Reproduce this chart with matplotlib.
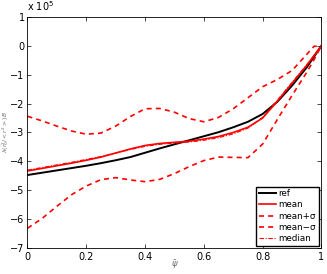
import numpy as np
from matplotlib import pyplot as plt


x = [0.00, 0.05, 0.10, 0.15, 0.20, 0.25, 0.30, 0.35, 0.40, 0.45, 0.50,
     0.55, 0.60, 0.65, 0.70, 0.75, 0.80, 0.85, 0.90, 0.95, 0.975, 1.00]

# values in units of 1e5
ref = [-4.47, -4.39, -4.31, -4.23, -4.15, -4.06, -3.96, -3.85, -3.70, -3.55, -3.41,
       -3.27, -3.13, -2.99, -2.82, -2.63, -2.36, -1.94, -1.38, -0.75, -0.38, 0.00]
mean = [-4.33, -4.24, -4.15, -4.06, -3.96, -3.85, -3.71, -3.57, -3.45, -3.38, -3.34,
        -3.30, -3.23, -3.14, -3.00, -2.82, -2.50, -1.92, -1.30, -0.68, -0.34, 0.00]
mean_plus = [-2.44, -2.60, -2.78, -2.95, -3.06, -3.02, -2.78, -2.45, -2.18, -2.17, -2.30,
             -2.52, -2.63, -2.48, -2.18, -1.80, -1.42, -1.17, -0.86, -0.30, -0.02, -0.02]
mean_minus = [-6.31, -5.97, -5.55, -5.15, -4.85, -4.63, -4.56, -4.64, -4.70, -4.62, -4.42,
              -4.18, -3.97, -3.85, -3.86, -3.87, -3.40, -2.55, -1.72, -0.92, -0.48, 0.00]
median = [-4.30, -4.21, -4.12, -4.03, -3.93, -3.83, -3.71, -3.59, -3.48, -3.41, -3.37,
          -3.33, -3.27, -3.18, -3.05, -2.85, -2.48, -1.88, -1.27, -0.66, -0.33, 0.00]

x_ticks = [0, 0.2, 0.4, 0.6, 0.8, 1]
x_tick_labels = ["0", "0.2", "0.4", "0.6", "0.8", "1"]
y_ticks = [1, 0, -1, -2, -3, -4, -5, -6, -7]
y_tick_labels = ["1", "0", "\u22121", "\u22122", "\u22123", "\u22124", "\u22125", "\u22126", "\u22127"]


plt.rcParams["font.family"] = ["DejaVu Sans"]

fig = plt.figure(figsize=(3.27, 2.74), dpi=100)
ax = fig.add_axes([0.084, 0.094, 0.899, 0.845])

ax.plot(x, ref, color="black", linewidth=1.4, label="ref")
ax.plot(x, mean, color="red", linewidth=1.2, label="mean")
ax.plot(x, mean_plus, color="red", linewidth=1.2, linestyle=(0, (3, 2.5)),
        label="mean+\u03c3")
ax.plot(x, mean_minus, color="red", linewidth=1.2, linestyle=(0, (3, 2.5)),
        label="mean\u2212\u03c3")
ax.plot(x, median, color="red", linewidth=0.8, linestyle=(0, (4, 1.5, 1, 1.5)),
        label="median")

ax.set_xlim([0, 1])
ax.set_ylim([-7, 1])

ax.set_xticks(x_ticks)
ax.set_xticklabels(x_tick_labels)
ax.set_yticks(y_ticks)
ax.set_yticklabels(y_tick_labels)

ax.tick_params(direction="in", length=3, width=0.5, labelsize=7,
               top=True, right=True, pad=3)
ax.tick_params(axis="y", pad=2)
for spine in ax.spines.values():
    spine.set_linewidth(0.6)

ax.set_xlabel(r"$\bar{\psi}$", fontsize=6, color="0.4")
ax.xaxis.set_label_coords(0.5, -0.045)
ax.set_ylabel(r"$\lambda(\tilde{r}_0^2/<r^2>)B$", fontsize=4.3, color="0.4",
              va="center")
ax.yaxis.set_label_coords(-0.075, 0.5)

fig.text(0.084, 0.952, r"x 10$^5$", fontsize=7, ha="left", va="bottom")

ax.legend(loc="lower right", fontsize=6.3, handlelength=2.0, handletextpad=0.3,
          labelspacing=0.25, borderpad=0.3, borderaxespad=0.3,
          fancybox=False, framealpha=1, edgecolor="black")

fig.savefig("out.png", dpi=100)
